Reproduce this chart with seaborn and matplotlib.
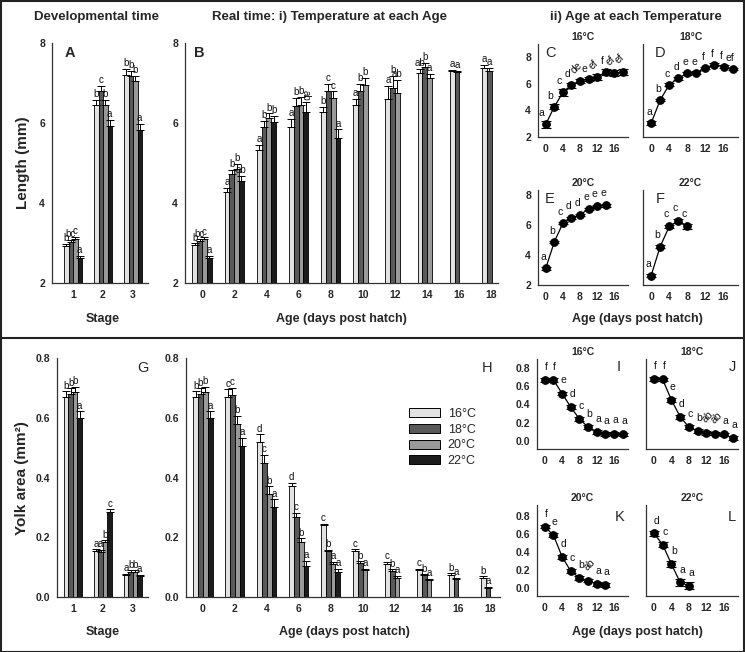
import numpy as np
import pandas as pd
import matplotlib
matplotlib.use("Agg")
import matplotlib.pyplot as plt
import seaborn as sns
from matplotlib.lines import Line2D
from matplotlib.patches import Rectangle, Patch
from matplotlib.container import BarContainer

sns.set_style("white")
plt.rcParams["font.family"] = ["Liberation Sans", "DejaVu Sans"]

# ---------------- data ----------------
temps = ["16°C", "18°C", "20°C", "22°C"]
colors = ["#e2e2e2", "#595959", "#999999", "#1c1c1c"]
stages = ["1", "2", "3"]
ages = [0, 2, 4, 6, 8, 10, 12, 14, 16, 18]
age_labels = [str(a) for a in ages]

# Panel A: length by stage
lenA_16 = [2.93, 6.45, 7.20]
lenA_18 = [3.03, 6.80, 7.18]
lenA_20 = [3.10, 6.45, 7.05]
lenA_22 = [2.63, 5.92, 5.82]
errA_16 = [0.05, 0.12, 0.15]
errA_18 = [0.05, 0.12, 0.12]
errA_20 = [0.05, 0.12, 0.12]
errA_22 = [0.04, 0.15, 0.15]
labA_16 = ["b", "b", "b"]
labA_18 = ["bc", "c", "b"]
labA_20 = ["c", "b", "b"]
labA_22 = ["a", "a", "a"]

# Panel B: length by age
lenB_16 = [2.95, 4.27, 5.33, 5.90, 6.27, 6.45, 6.60, 7.25, 7.30, 7.37]
lenB_18 = [3.05, 4.72, 5.90, 6.42, 6.80, 6.80, 6.87, 7.40, 7.28, 7.30]
lenB_20 = [3.10, 4.85, 6.12, 6.45, 6.62, 6.95, 6.75, 7.12, None, None]
lenB_22 = [2.63, 4.55, 6.02, 6.28, 5.62, None, None, None, None, None]
errB_16 = [0.04, 0.10, 0.12, 0.20, 0.13, 0.15, 0.32, 0.10, 0.03, 0.08]
errB_18 = [0.04, 0.10, 0.15, 0.20, 0.17, 0.18, 0.30, 0.10, 0.03, 0.08]
errB_20 = [0.04, 0.12, 0.12, 0.20, 0.17, 0.17, 0.33, 0.10, None, None]
errB_22 = [0.04, 0.12, 0.15, 0.25, 0.22, None, None, None, None, None]
labB_16 = ["b", "a", "a", "a", "b", "a", "a", "ab", "a", "a"]
labB_18 = ["bc", "b", "b", "b", "c", "b", "b", "b", "a", "a"]
labB_20 = ["c", "b", "b", "b", "c", "b", "ab", "a", None, None]
labB_22 = ["a", "ab", "b", "ab", "a", None, None, None, None, None]

# Panels C-F: length at each temperature
lenC_16 = [2.95, 4.27, 5.35, 5.90, 6.25, 6.37, 6.50, 6.90, 6.80, 6.88]
errC_16 = [0.25, 0.20, 0.25, 0.20, 0.15, 0.15, 0.22, 0.20, 0.22, 0.25]
labC_16 = ["a", "b", "c", "d", "de", "e", "ef", "f", "ef", "ef"]
lenD_18 = [3.05, 4.78, 5.94, 6.42, 6.80, 6.85, 7.20, 7.45, 7.30, 7.12]
errD_18 = [0.12, 0.10, 0.10, 0.10, 0.10, 0.10, 0.10, 0.10, 0.10, 0.10]
labD_18 = ["a", "b", "c", "d", "e", "e", "f", "f", "f", "ef"]
lenE_20 = [3.10, 4.85, 6.10, 6.45, 6.65, 7.05, 7.25, 7.30]
errE_20 = [0.10, 0.08, 0.08, 0.08, 0.08, 0.08, 0.08, 0.10]
labE_20 = ["a", "b", "c", "d", "d", "e", "e", "e"]
lenF_22 = [2.63, 4.55, 5.88, 6.25, 5.88]
errF_22 = [0.10, 0.10, 0.12, 0.15, 0.15]
labF_22 = ["a", "b", "c", "c", "c"]

# Panel G: yolk by stage
yolkG_16 = [0.670, 0.155, 0.072]
yolkG_18 = [0.680, 0.152, 0.085]
yolkG_20 = [0.685, 0.185, 0.085]
yolkG_22 = [0.600, 0.285, 0.070]
errG_16 = [0.018, 0.005, 0.005]
errG_18 = [0.018, 0.005, 0.004]
errG_20 = [0.018, 0.005, 0.004]
errG_22 = [0.022, 0.008, 0.005]
labG_16 = ["b", "a", "a"]
labG_18 = ["b", "a", "b"]
labG_20 = ["b", "b", "b"]
labG_22 = ["a", "c", "a"]

# Panel H: yolk by age
yolkH_16 = [0.670, 0.670, 0.520, 0.370, 0.240, 0.155, 0.110, 0.090, 0.075, 0.065]
yolkH_18 = [0.680, 0.675, 0.450, 0.267, 0.153, 0.115, 0.088, 0.072, 0.060, 0.030]
yolkH_20 = [0.685, 0.580, 0.345, 0.183, 0.112, 0.090, 0.065, 0.057, None, None]
yolkH_22 = [0.600, 0.505, 0.300, 0.103, 0.085, None, None, None, None, None]
errH_16 = [0.018, 0.025, 0.025, 0.013, 0.005, 0.005, 0.008, 0.004, 0.005, 0.004]
errH_18 = [0.018, 0.025, 0.025, 0.015, 0.005, 0.005, 0.005, 0.004, 0.004, 0.004]
errH_20 = [0.018, 0.027, 0.025, 0.013, 0.005, 0.004, 0.005, 0.004, None, None]
errH_22 = [0.022, 0.028, 0.027, 0.018, 0.010, None, None, None, None, None]
labH_16 = ["b", "c", "d", "d", "c", "c", "c", "c", "b", "b"]
labH_18 = ["b", "c", "c", "c", "b", "b", "b", "b", "a", "a"]
labH_20 = ["b", "b", "b", "b", "a", "a", "a", "a", None, None]
labH_22 = ["a", "a", "a", "a", "a", None, None, None, None, None]

# Panels I-L: yolk at each temperature
yolkI_16 = [0.670, 0.670, 0.520, 0.370, 0.240, 0.150, 0.095, 0.075, 0.080, 0.070]
labI_16 = ["f", "f", "e", "d", "c", "b", "a", "a", "a", "a"]
yolkJ_18 = [0.680, 0.675, 0.450, 0.265, 0.150, 0.110, 0.085, 0.080, 0.070, 0.030]
labJ_18 = ["f", "f", "e", "d", "c", "b", "ab", "ab", "a", "a"]
yolkK_20 = [0.680, 0.585, 0.345, 0.185, 0.110, 0.080, 0.045, 0.035]
labK_20 = ["f", "e", "d", "c", "b", "ab", "a", "a"]
yolkL_22 = [0.605, 0.480, 0.265, 0.060, 0.025]
errL_22 = [0.030, 0.030, 0.035, 0.035, 0.035]
labL_22 = ["d", "c", "b", "a", "a"]
err_yolk_small = 0.02

# ---------------- figure ----------------
W, H = 745, 652
fig = plt.figure(figsize=(W / 100, H / 100), dpi=100)
SPINE_C = "#333333"


def add_ax(l, t, r, b):
    return fig.add_axes([l / W, 1 - b / H, (r - l) / W, (b - t) / H])


def ftext(x, y, s, **kw):
    fig.text(x / W, 1 - y / H, s, **kw)


def style_ax(ax):
    sns.despine(ax=ax)
    for s in ["left", "bottom"]:
        ax.spines[s].set_color(SPINE_C)
        ax.spines[s].set_linewidth(0.9)
    ax.tick_params(axis="both", direction="out", length=3, width=0.8,
                   color=SPINE_C, pad=2, labelsize=7.5)
    for lab in ax.get_xticklabels() + ax.get_yticklabels():
        lab.set_fontweight("bold")
    ax.set_xlabel("")
    ax.set_ylabel("")


def bar_panel(ax, cats, means, errs, labs, ylim, yticks, yfmt, xlim, pad,
              rotated=()):
    rows = []
    for t, m, e, l in zip(temps, means, errs, labs):
        for c, mv, ev, lv in zip(cats, m, e, l):
            if mv is None:
                continue
            rows.append(dict(cat=c, temp=t, val=mv, err=ev, lab=lv))
    df = pd.DataFrame(rows)
    sns.barplot(data=df, x="cat", y="val", hue="temp", order=cats,
                hue_order=temps, palette=colors, errorbar=None, width=0.6,
                edgecolor="black", linewidth=0.6, saturation=1,
                legend=False, ax=ax)
    bar_conts = [c for c in ax.containers if isinstance(c, BarContainer)]
    for ti, cont in enumerate(bar_conts):
        t = temps[ti]
        for bar in cont:
            h = bar.get_height()
            if h is None or np.isnan(h):
                continue
            xc = bar.get_x() + bar.get_width() / 2
            ci = int(round(xc))
            r = df[(df.cat == cats[ci]) & (df.temp == t)]
            if r.empty:
                continue
            e = float(r.err.iloc[0])
            lab = r.lab.iloc[0]
            ax.errorbar([xc], [h], yerr=[[0], [e]], fmt="none", ecolor="black",
                        elinewidth=0.7, capsize=3, capthick=0.7)
            rot = 270 if (cats[ci], t) in rotated else 0
            ax.text(xc, h + e + pad, lab, ha="center", va="bottom",
                    fontsize=7, rotation=rot, color="#111111")
    ax.set_ylim(*ylim)
    ax.set_xlim(*xlim)
    ax.set_yticks(yticks)
    ax.set_yticklabels([yfmt.format(v) for v in yticks])
    style_ax(ax)


def line_panel(ax, x, y, e, labs, ylim, yticks, yfmt, showy, dx, dy,
               rot_labels=(), title=None):
    sns.lineplot(x=x, y=y, ax=ax, color="black", linewidth=0.9,
                 errorbar=None, marker="o", markersize=5.5,
                 markeredgecolor="black", markerfacecolor="black")
    ax.errorbar(x, y, yerr=e, fmt="none", ecolor="black", elinewidth=0.8,
                capsize=3.5, capthick=0.8)
    for xi, yi, ei, li in zip(x, y, e, labs):
        rot = 45 if li in rot_labels else 0
        ax.text(xi + dx, yi + ei + dy, li, ha="center", va="bottom",
                fontsize=7.5, rotation=rot, color="#111111")
    ax.set_xlim(-1.8, 19.2)
    ax.set_ylim(*ylim)
    ax.set_xticks(ages)
    ax.set_xticklabels([str(a) if a % 4 == 0 else "" for a in ages])
    ax.set_yticks(yticks)
    if showy:
        ax.set_yticklabels([yfmt.format(v) for v in yticks])
    else:
        ax.set_yticklabels([])
    style_ax(ax)
    if title:
        ax.set_title(title, fontsize=7.5, fontweight="bold", pad=3)


# ---- Top row ----
axA = add_ax(52, 43, 148, 283)
bar_panel(axA, stages, [lenA_16, lenA_18, lenA_20, lenA_22],
          [errA_16, errA_18, errA_20, errA_22],
          [labA_16, labA_18, labA_20, labA_22],
          (2, 8), [2, 4, 6, 8], "{:.0f}", (-0.7, 2.5), 0.02)

axB = add_ax(185, 43, 498, 283)
bar_panel(axB, age_labels, [lenB_16, lenB_18, lenB_20, lenB_22],
          [errB_16, errB_18, errB_20, errB_22],
          [labB_16, labB_18, labB_20, labB_22],
          (2, 8), [2, 4, 6, 8], "{:.0f}", (-0.53, 9.2), 0.02,
          rotated=[("6", "22°C")])

axC = add_ax(538, 44, 628, 137)
line_panel(axC, ages, lenC_16, errC_16, labC_16, (2, 9), [2, 4, 6, 8],
           "{:.0f}", True, -0.9, 0.25, rot_labels=("de", "ef"), title="16°C")
axD = add_ax(643, 44, 738, 137)
line_panel(axD, ages, lenD_18, errD_18, labD_18, (2, 9), [2, 4, 6, 8],
           "{:.0f}", False, -0.5, 0.35, title="18°C")
axE = add_ax(538, 190, 628, 285)
line_panel(axE, ages[:8], lenE_20, errE_20, labE_20, (2, 8.3), [2, 4, 6, 8],
           "{:.0f}", True, -0.6, 0.35, title="20°C")
axF = add_ax(643, 190, 738, 285)
line_panel(axF, ages[:5], lenF_22, errF_22, labF_22, (2, 8.3), [2, 4, 6, 8],
           "{:.0f}", False, -0.6, 0.35, title="22°C")

# ---- Bottom row ----
axG = add_ax(57, 358, 148, 597)
bar_panel(axG, stages, [yolkG_16, yolkG_18, yolkG_20, yolkG_22],
          [errG_16, errG_18, errG_20, errG_22],
          [labG_16, labG_18, labG_20, labG_22],
          (0, 0.8), [0, 0.2, 0.4, 0.6, 0.8], "{:.1f}", (-0.53, 2.5), 0.002)

axH = add_ax(186, 358, 500, 597)
bar_panel(axH, age_labels, [yolkH_16, yolkH_18, yolkH_20, yolkH_22],
          [errH_16, errH_18, errH_20, errH_22],
          [labH_16, labH_18, labH_20, labH_22],
          (0, 0.8), [0, 0.2, 0.4, 0.6, 0.8], "{:.1f}", (-0.53, 9.3), 0.002)

yt = [0, 0.2, 0.4, 0.6, 0.8]
axI = add_ax(537, 359, 628, 449)
line_panel(axI, ages, yolkI_16, [err_yolk_small] * 10, labI_16, (-0.09, 0.9),
           yt, "{:.1f}", True, 0.3, 0.07, title="16°C")
axJ = add_ax(646, 359, 738, 449)
line_panel(axJ, ages, yolkJ_18, [err_yolk_small] * 10, labJ_18, (-0.09, 0.9),
           yt, "{:.1f}", False, 0.3, 0.07, rot_labels=("ab",), title="18°C")
axK = add_ax(537, 505, 628, 596)
line_panel(axK, ages[:8], yolkK_20, [err_yolk_small] * 8, labK_20,
           (-0.09, 0.92), yt, "{:.1f}", True, 0.3, 0.07, rot_labels=("ab",),
           title="20°C")
axL = add_ax(646, 505, 738, 596)
line_panel(axL, ages[:5], yolkL_22, errL_22, labL_22, (-0.09, 0.92),
           yt, "{:.1f}", False, 0.6, 0.05, title="22°C")

# legend in H
handles = [Patch(facecolor=c, edgecolor="black", linewidth=0.7, label=t)
           for c, t in zip(colors, temps)]
fig.legend(handles=handles, loc="upper left",
           bbox_to_anchor=(404 / W, 1 - 403 / H), frameon=False,
           fontsize=9, handlelength=2.5, handleheight=0.75,
           handletextpad=0.6, labelspacing=0.3, borderaxespad=0)

# ---- texts ----
ftext(97, 17, "Developmental time", ha="center", va="center",
      fontsize=9.5, fontweight="bold")
ftext(330, 17, "Real time: i) Temperature at each Age", ha="center",
      va="center", fontsize=9.5, fontweight="bold")
ftext(636, 17, "ii) Age at each Temperature", ha="center", va="center",
      fontsize=9.5, fontweight="bold")

ftext(23, 163, "Length (mm)", ha="center", va="center", rotation=90,
      fontsize=11, fontweight="bold")
ftext(22, 478, "Yolk area (mm²)", ha="center", va="center",
      rotation=90, fontsize=11, fontweight="bold")

ftext(103, 319, "Stage", ha="center", va="center", fontsize=9,
      fontweight="bold")
ftext(341, 319, "Age (days post hatch)", ha="center", va="center",
      fontsize=9, fontweight="bold")
ftext(637, 319, "Age (days post hatch)", ha="center", va="center",
      fontsize=9, fontweight="bold")
ftext(103, 632, "Stage", ha="center", va="center", fontsize=9,
      fontweight="bold")
ftext(344, 632, "Age (days post hatch)", ha="center", va="center",
      fontsize=9, fontweight="bold")
ftext(637, 632, "Age (days post hatch)", ha="center", va="center",
      fontsize=9, fontweight="bold")

# panel letters
for lab, x, y, wt in [("A", 70, 53, "bold"), ("B", 199, 53, "bold"),
                      ("C", 550, 53, "normal"), ("D", 660, 53, "normal"),
                      ("E", 550, 199, "normal"), ("F", 660, 199, "normal"),
                      ("G", 143, 368, "normal"), ("H", 487, 368, "normal"),
                      ("I", 619, 367, "normal"), ("J", 732, 367, "normal"),
                      ("K", 620, 517, "normal"), ("L", 732, 517, "normal")]:
    ftext(x, y, lab, ha="center", va="center", fontsize=10.5, fontweight=wt)

# frame and divider
fig.add_artist(Rectangle((0.5 / W, 0.5 / H), (W - 1.5) / W, (H - 1.5) / H,
                         transform=fig.transFigure, fill=False,
                         edgecolor="#222222", linewidth=1.5))
fig.add_artist(Line2D([0, 1], [1 - 338 / H, 1 - 338 / H],
                      transform=fig.transFigure, color="#222222",
                      linewidth=1.5))

fig.savefig("out.png", dpi=100, facecolor="white")
